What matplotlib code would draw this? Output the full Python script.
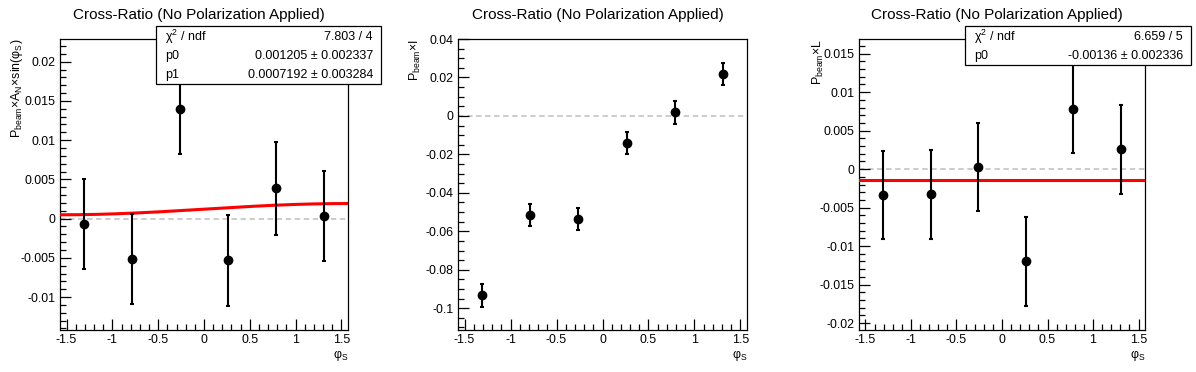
import numpy as np
import matplotlib
matplotlib.use('Agg')
import matplotlib.pyplot as plt
from matplotlib.ticker import MultipleLocator, FuncFormatter
from matplotlib.patches import Rectangle

plt.rcParams['font.family'] = ['Liberation Sans', 'DejaVu Sans']
plt.rcParams['mathtext.fontset'] = 'custom'
plt.rcParams['mathtext.rm'] = 'Liberation Sans'
plt.rcParams['mathtext.it'] = 'Liberation Sans'

# bin centres in phi_S (6 bins over -pi/2..pi/2)
phi = [-1.309, -0.785, -0.262, 0.262, 0.785, 1.309]

# panel 1: P_beam x A_N x sin(phi_S)
an_val = [-0.00071, -0.00516, 0.0140, -0.00529, 0.00386, 0.00034]
an_err = [0.0057, 0.0057, 0.0057, 0.0058, 0.0059, 0.0057]
an_p0, an_p1 = 0.001205, 0.0007192

# panel 2: P_beam x I
i_val = [-0.0932, -0.0515, -0.0537, -0.0139, 0.0019, 0.0218]
i_err = [0.0059, 0.0057, 0.0058, 0.0057, 0.0060, 0.0056]

# panel 3: P_beam x L
l_val = [-0.00341, -0.00328, 0.00026, -0.01197, 0.00787, 0.00255]
l_err = [0.0057, 0.0058, 0.0057, 0.0058, 0.0058, 0.0058]
l_p0 = -0.00136

title = 'Cross-Ratio (No Polarization Applied)'
ylabels = [r'P$_{\mathregular{beam}}$×A$_{\mathregular{N}}$×sin(φ$_{\mathregular{S}}$)',
           r'P$_{\mathregular{beam}}$×I',
           r'P$_{\mathregular{beam}}$×L']

W, H = 1196, 372
fig = plt.figure(figsize=(W / 100, H / 100), dpi=100)

# axes boxes in pixels: left, top, right, bottom
boxes = [(60, 39, 348, 330), (458, 39, 747, 330), (859, 39, 1145, 330)]
ylims = [(-0.0142, 0.0229), (-0.1113, 0.0400), (-0.0209, 0.0169)]
ymaj = [0.005, 0.02, 0.005]
ymin_ = [0.001, 0.005, 0.001]
ylab_x = [-0.12, -0.12, -0.115]
vals = [an_val, i_val, l_val]
errs = [an_err, i_err, l_err]

fmt = FuncFormatter(lambda v, p: '%g' % (round(v, 6) + 0.0))
axes = []
for k in range(3):
    l, t, r, b = boxes[k]
    ax = fig.add_axes([l / W, 1 - b / H, (r - l) / W, (b - t) / H])
    axes.append(ax)
    ax.set_xlim(-1.571, 1.571)
    ax.set_ylim(*ylims[k])
    ax.axhline(0, color='#c8c8c8', ls=(0, (3, 2)), lw=1.3, zorder=1)
    ax.errorbar(phi, vals[k], yerr=errs[k], fmt='o', color='black', ms=6,
                elinewidth=1.5, capsize=1.6, capthick=1.5, zorder=4)
    ax.xaxis.set_major_locator(MultipleLocator(0.5))
    ax.xaxis.set_minor_locator(MultipleLocator(0.1))
    ax.yaxis.set_major_locator(MultipleLocator(ymaj[k]))
    ax.yaxis.set_minor_locator(MultipleLocator(ymin_[k]))
    ax.xaxis.set_major_formatter(fmt)
    ax.yaxis.set_major_formatter(fmt)
    ax.tick_params(which='both', direction='in', top=False, right=False,
                   labelsize=8.9, width=0.9)
    ax.tick_params(which='major', length=8, pad=3)
    ax.tick_params(which='minor', length=4)
    for s in ax.spines.values():
        s.set_linewidth(0.9)
    ax.set_ylabel(ylabels[k], loc='top', fontsize=8.9)
    ax.yaxis.set_label_coords(ylab_x[k], 1.0)
    ax.set_xlabel(r'φ$_{\mathregular{S}}$', loc='right', fontsize=8.9, labelpad=1)
    fig.text(((l + r) / 2 - 5) / W, 1 - 15 / H, title, ha='center', va='center',
             fontsize=11)

# fit curves
xf = np.linspace(-1.571, 1.571, 200)
axes[0].plot(xf, an_p0 + an_p1 * np.sin(xf), color='red', lw=2.2, zorder=3)
axes[2].plot(xf, np.full_like(xf, l_p0), color='red', lw=2.2, zorder=3)


def stats_box(x0, y0, x1, rows, tx0, tx1):
    y1 = y0 + 19.3 * len(rows)
    fig.patches.append(Rectangle((x0 / W, 1 - y1 / H), (x1 - x0) / W, (y1 - y0) / H,
                                 transform=fig.transFigure, facecolor='white',
                                 edgecolor='black', lw=0.9, zorder=10))
    for i, (a, b) in enumerate(rows):
        yc = 1 - (y0 + 11 + 19 * i) / H
        fig.text(tx0 / W, yc, a, ha='left', va='center', fontsize=9, zorder=11)
        fig.text(tx1 / W, yc, b, ha='right', va='center', fontsize=9, zorder=11)


stats_box(156, 26, 381, [(r'χ$^{\mathregular{2}}$ / ndf', '7.803 / 4'),
                         ('p0', '0.001205 ± 0.002337'),
                         ('p1', '0.0007192 ± 0.003284')], 165, 373)
stats_box(965, 26, 1191, [(r'χ$^{\mathregular{2}}$ / ndf', '6.659 / 5'),
                          ('p0', '-0.00136 ± 0.002336')], 974, 1183)

fig.savefig('out.png', dpi=100)
